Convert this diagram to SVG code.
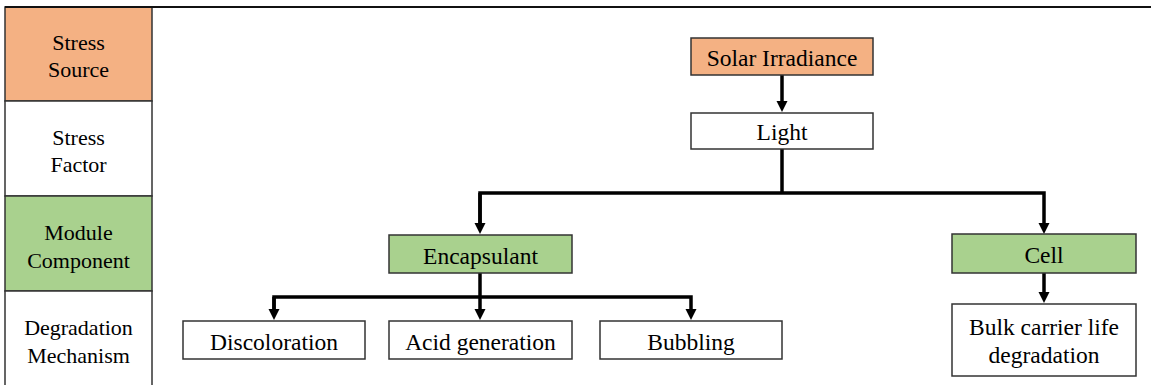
<svg xmlns="http://www.w3.org/2000/svg" width="1151" height="385" viewBox="0 0 1151 385">
<style>
.t{font-family:'Liberation Serif','Times New Roman',serif;font-size:22px;fill:#000;text-anchor:middle}
.n{font-size:23.5px}
.box{stroke:#333;stroke-width:1.5}
.w{fill:#fff}
.o{fill:#F4B183}
.g{fill:#A9D18E}
.c{fill:none;stroke:#000;stroke-width:3.5}
</style>
<defs>
<marker id="ah" markerUnits="userSpaceOnUse" markerWidth="12" markerHeight="12" refX="1" refY="6" orient="auto">
<path d="M0,0.5 L11,6 L0,11.5 z" fill="#000"/>
</marker>
</defs>
<rect width="1151" height="385" fill="#fff"/>
<g id="legend">
<rect class="box o" x="5" y="7" width="147" height="94"/>
<rect class="box w" x="5" y="101" width="147" height="95"/>
<rect class="box g" x="5" y="196" width="147" height="95"/>
<rect class="box w" x="5" y="291" width="147" height="100"/>
<text class="t" x="78.5" y="50">Stress</text>
<text class="t" x="78.5" y="77">Source</text>
<text class="t" x="78.5" y="145">Stress</text>
<text class="t" x="78.5" y="172">Factor</text>
<text class="t" x="78.5" y="240">Module</text>
<text class="t" x="78.5" y="268">Component</text>
<text class="t" x="78.5" y="335">Degradation</text>
<text class="t" x="78.5" y="363">Mechanism</text>
</g>
<line x1="5" y1="7" x2="1151" y2="7" stroke="#111" stroke-width="2"/>
<g id="connectors">
<path class="c" d="M782,75 V102" marker-end="url(#ah)"/>
<path class="c" d="M782,149 V193"/>
<path class="c" d="M480,224 V193 H1044 V224" marker-end="url(#ah)"/>
<path class="c" d="M480,193 V224" marker-end="url(#ah)"/>
<path class="c" d="M480,273 V310" marker-end="url(#ah)"/>
<path class="c" d="M274,310 V297 H691 V310" marker-end="url(#ah)"/>
<path class="c" d="M274,297 V310" marker-end="url(#ah)"/>
<path class="c" d="M1044,273 V293" marker-end="url(#ah)"/>
</g>
<g id="solar"><rect class="box o" x="691" y="38" width="182" height="37"/><text class="t n" x="782" y="66">Solar Irradiance</text></g>
<g id="light"><rect class="box w" x="691" y="113" width="182" height="36"/><text class="t n" x="782" y="140">Light</text></g>
<g id="encapsulant"><rect class="box g" x="389" y="235" width="183" height="38"/><text class="t n" x="480.5" y="263.5">Encapsulant</text></g>
<g id="cell"><rect class="box g" x="952" y="234" width="184" height="39"/><text class="t n" x="1044" y="263">Cell</text></g>
<g id="discoloration"><rect class="box w" x="183" y="321" width="182" height="38"/><text class="t n" x="274" y="349.5">Discoloration</text></g>
<g id="acid"><rect class="box w" x="389" y="321" width="183" height="38"/><text class="t n" x="480.5" y="349.5">Acid generation</text></g>
<g id="bubbling"><rect class="box w" x="600" y="321" width="182" height="38"/><text class="t n" x="691" y="349.5">Bubbling</text></g>
<g id="bulk"><rect class="box w" x="952" y="304" width="184" height="72"/><text class="t n" x="1044" y="334.5">Bulk carrier life</text><text class="t n" x="1044" y="362.5">degradation</text></g>
</svg>
